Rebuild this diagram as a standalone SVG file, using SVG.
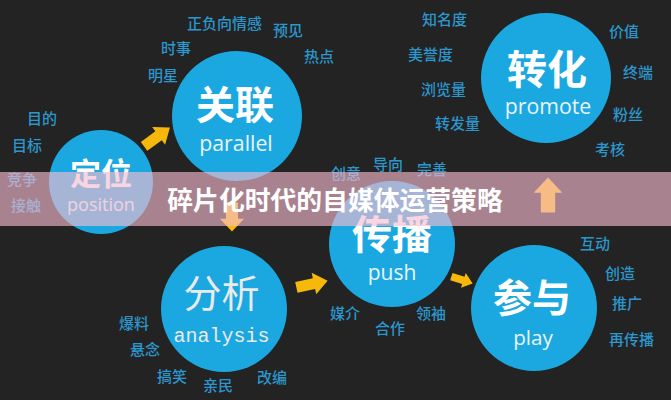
<svg xmlns="http://www.w3.org/2000/svg" width="671" height="400" viewBox="0 0 671 400">
<defs>
<style>
.c{fill:#1ba8e0}
.zh{font-family:"Noto Sans CJK SC","Noto Sans",sans-serif;font-weight:bold;fill:#ffffff;text-anchor:middle}
.en{font-family:"Open Sans","Noto Sans",sans-serif;fill:#e9f4fa;text-anchor:middle}
.kw{font-family:"Noto Sans CJK SC","Noto Sans",sans-serif;font-size:15px;font-weight:500;fill:#2b97cd}
.ar{fill:#f6b80a}
</style>
<path id="arr" d="M-16,-5.5 L2,-5.5 L2,-11 L16,0 L2,11 L2,5.5 L-16,5.5 Z"/>
</defs>
<rect width="671" height="400" fill="#232323"/>

<g id="node-dingwei">
<circle class="c" cx="101" cy="182" r="52"/>
<text class="zh" x="101" y="185" font-size="31">定位</text>
<text class="en" x="101" y="211" font-size="18">position</text>
</g>
<g id="node-guanlian">
<circle class="c" cx="237" cy="116" r="65"/>
<text class="zh" x="235" y="119" font-size="39">关联</text>
<text class="en" x="236" y="151" font-size="21.3">parallel</text>
</g>
<g id="node-zhuanhua">
<circle class="c" cx="546" cy="78" r="65"/>
<text class="zh" x="547" y="84" font-size="40">转化</text>
<text class="en" x="548" y="114" font-size="21.3">promote</text>
</g>
<g id="node-chuanbo">
<circle class="c" cx="392" cy="244" r="63"/>
<text class="zh" x="392" y="249" font-size="40">传播</text>
<text class="en" x="392" y="280" font-size="21">push</text>
</g>
<g id="node-canyu">
<circle class="c" cx="534" cy="308" r="63"/>
<text class="zh" x="532" y="312" font-size="39">参与</text>
<text class="en" x="533" y="345" font-size="20.7">play</text>
</g>
<g id="node-fenxi">
<circle class="c" cx="224" cy="309" r="63"/>
<text x="221.5" y="307" font-size="38" font-family="Noto Sans CJK SC,Noto Sans,sans-serif" fill="#eaeaea" text-anchor="middle">分析</text>
<text x="221.5" y="342" font-size="20" font-family="Liberation Mono,monospace" fill="#eaeaea" text-anchor="middle">analysis</text>
</g>

<g id="keywords">
<text class="kw" x="187" y="29">正负向情感</text>
<text class="kw" x="273" y="36">预见</text>
<text class="kw" x="161" y="54">时事</text>
<text class="kw" x="304" y="62">热点</text>
<text class="kw" x="148" y="81">明星</text>
<text class="kw" x="27" y="124">目的</text>
<text class="kw" x="12" y="151">目标</text>
<text class="kw" x="7" y="185">竞争</text>
<text class="kw" x="11" y="211">接触</text>
<text class="kw" x="331" y="179">创意</text>
<text class="kw" x="373" y="170">导向</text>
<text class="kw" x="417" y="175">完善</text>
<text class="kw" x="422" y="25">知名度</text>
<text class="kw" x="408" y="60">美誉度</text>
<text class="kw" x="421" y="95">浏览量</text>
<text class="kw" x="435" y="129">转发量</text>
<text class="kw" x="609" y="37">价值</text>
<text class="kw" x="623" y="78">终端</text>
<text class="kw" x="613" y="120">粉丝</text>
<text class="kw" x="595" y="155">考核</text>
<text class="kw" x="580" y="249">互动</text>
<text class="kw" x="605" y="279">创造</text>
<text class="kw" x="612" y="309">推广</text>
<text class="kw" x="609" y="345">再传播</text>
<text class="kw" x="330" y="319">媒介</text>
<text class="kw" x="375" y="334">合作</text>
<text class="kw" x="416" y="319">领袖</text>
<text class="kw" x="119" y="329">爆料</text>
<text class="kw" x="130" y="355">悬念</text>
<text class="kw" x="157" y="382">搞笑</text>
<text class="kw" x="203" y="391">亲民</text>
<text class="kw" x="257" y="383">改编</text>
</g>

<g id="connectors">
<use href="#arr" class="ar" transform="translate(157,137) rotate(-36)"/>
<use href="#arr" class="ar" transform="translate(232,217) rotate(90) scale(0.9,1.1)"/>
<use href="#arr" class="ar" transform="translate(312,284) rotate(-12)"/>
<use href="#arr" class="ar" transform="translate(462,280) rotate(18) scale(0.7)"/>
<use href="#arr" class="ar" transform="translate(548,195) rotate(-90) scale(1.1,1.3)"/>
</g>

<g id="banner">
<rect x="0" y="172" width="671" height="54" fill="#f7bccf" fill-opacity="0.63"/>
<text x="335" y="210" font-size="25.8" font-family="Noto Sans CJK SC,Noto Sans,sans-serif" font-weight="bold" fill="#ffffff" text-anchor="middle">碎片化时代的自媒体运营策略</text>
</g>
</svg>
